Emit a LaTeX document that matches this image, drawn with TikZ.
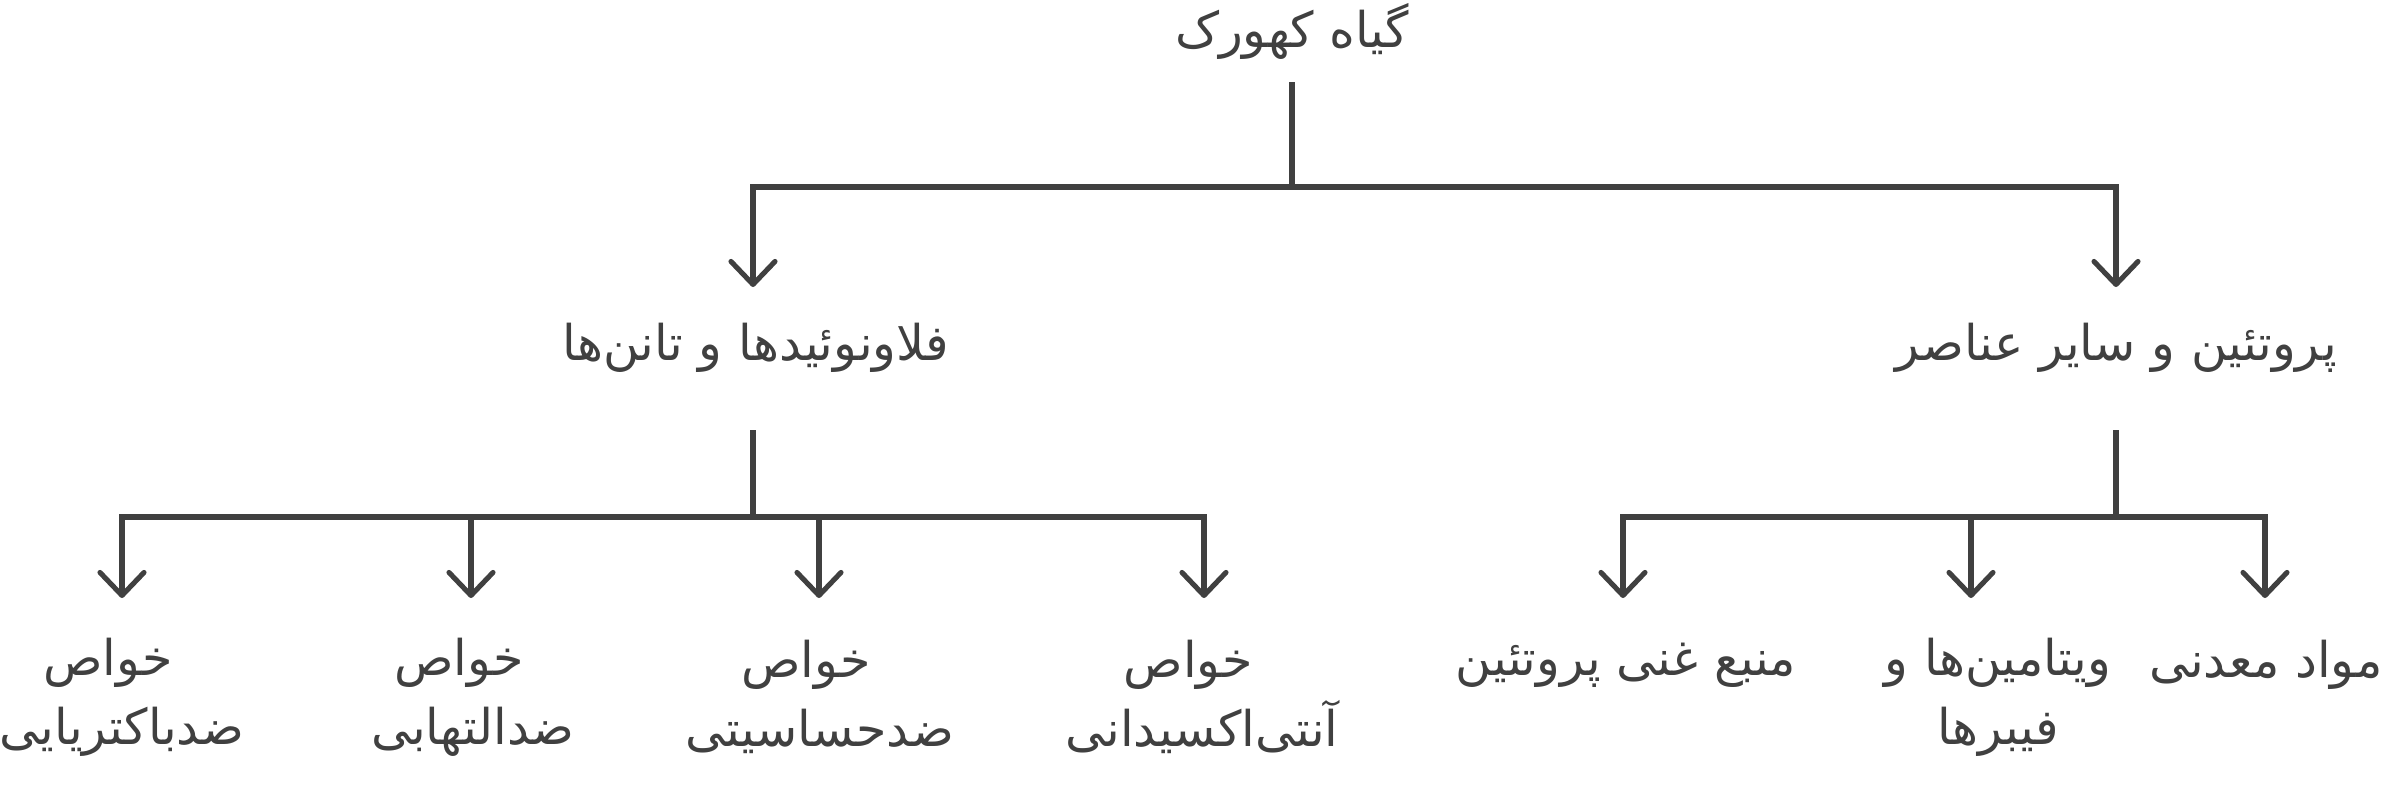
\documentclass[tikz,border=0pt]{standalone}
\usepackage{fontspec}
\newfontfamily\arabicfont[Script=Arabic]{DejaVu Sans}
\TeXXeTstate=1
\usetikzlibrary{arrows.meta}
\definecolor{ink}{HTML}{404040}
\newcommand{\khavas}{\beginR خواص\endR\kern0.28cm\relax}
\tikzset{
  lbl/.style={font=\arabicfont\fontsize{14}{19.6}\selectfont, text=ink, align=center, inner sep=0pt},
  conn/.style={draw=ink, line width=1.45pt},
  arr/.style={conn, -{Straight Barb[length=2.3mm, width=4.4mm, round]}}
}
\begin{document}
\begin{tikzpicture}
\useasboundingbox (0,0) rectangle (24.01,-7.93);
% nodes
\node[lbl] (root) at (12.92,-0.31) {\beginR گیاه کهورک\endR};
\node[lbl] (flav) at (7.56,-3.48) {\beginR فلاونوئیدها و تانن‌ها\endR};
\node[lbl] (prot) at (21.16,-3.48) {\beginR پروتئین و سایر عناصر\endR};
\node[lbl] (c1) at (1.22,-6.97) {\khavas\\\beginR ضدباکتریایی\endR};
\node[lbl] (c2) at (4.73,-6.97) {\khavas\\\beginR ضدالتهابی\endR};
\node[lbl] (c3) at (8.20,-6.97) {\khavas\\\beginR ضدحساسیتی\endR};
\node[lbl] (c4) at (12.02,-6.97) {\khavas\\\beginR آنتی‌اکسیدانی\endR};
\node[lbl] (d1) at (16.26,-6.65) {\beginR منبع غنی پروتئین\endR};
\node[lbl] (d2) at (19.98,-6.97) {\beginR ویتامین‌ها و\endR\\\beginR فیبرها\endR};
\node[lbl] (d3) at (22.66,-6.65) {\beginR مواد معدنی\endR};
% coordinates
\coordinate (r0) at (12.92,-0.82);
\coordinate (rj) at (12.92,-1.87);
\coordinate (fa) at (7.53,-2.87);
\coordinate (pa) at (21.16,-2.87);
\coordinate (f0) at (7.53,-4.30);
\coordinate (fj) at (7.53,-5.17);
\coordinate (c1a) at (1.22,-5.98);
\coordinate (c2a) at (4.71,-5.98);
\coordinate (c3a) at (8.19,-5.98);
\coordinate (c4a) at (12.04,-5.98);
\coordinate (p0) at (21.16,-4.30);
\coordinate (pj) at (21.16,-5.17);
\coordinate (d1a) at (16.23,-5.98);
\coordinate (d2a) at (19.71,-5.98);
\coordinate (d3a) at (22.65,-5.98);
% connectors
\draw[conn] (r0) -- (rj);
\draw[arr] (rj) -| (fa);
\draw[arr] (rj) -| (pa);
\draw[conn] (f0) -- (fj);
\draw[arr] (fj) -| (c1a);
\draw[arr] (fj) -| (c2a);
\draw[arr] (fj) -| (c3a);
\draw[arr] (fj) -| (c4a);
\draw[conn] (p0) -- (pj);
\draw[arr] (pj) -| (d1a);
\draw[arr] (pj) -| (d2a);
\draw[arr] (pj) -| (d3a);
\end{tikzpicture}
\end{document}
